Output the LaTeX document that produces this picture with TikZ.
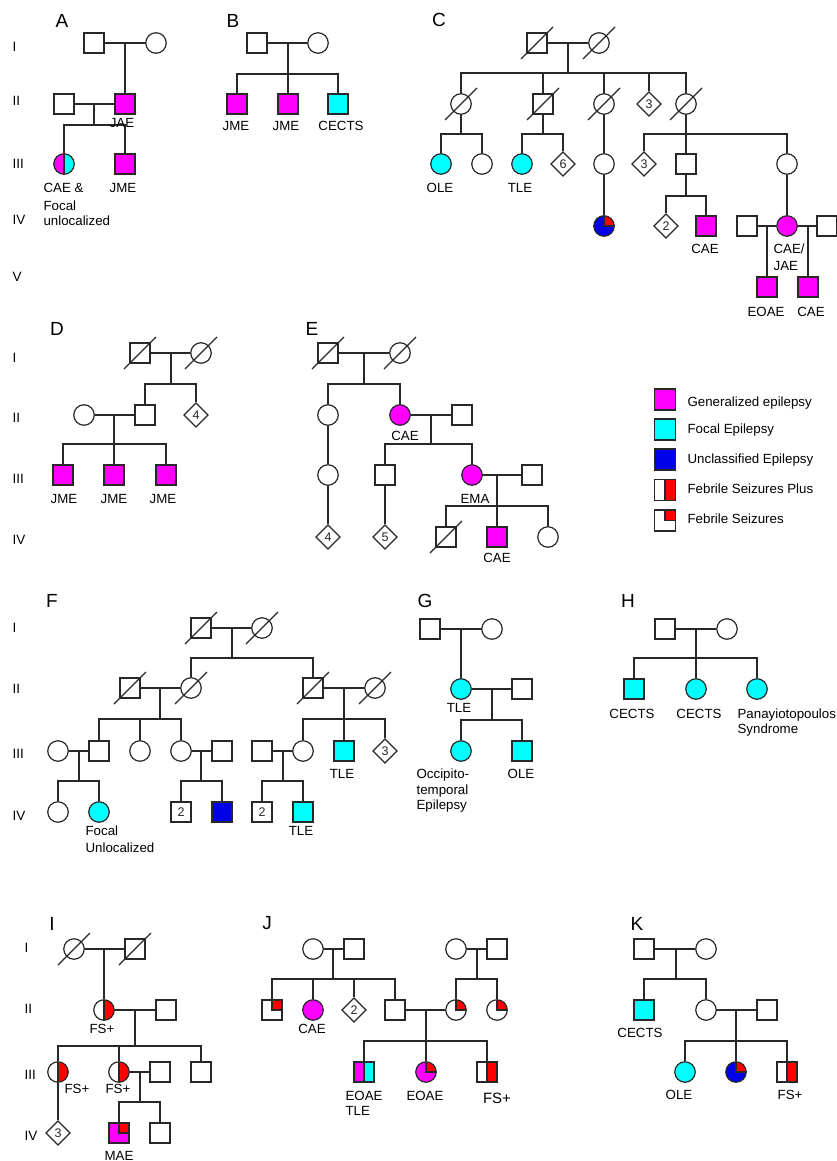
\documentclass[tikz,border=0pt]{standalone}
\usepackage{fontspec}
\setmainfont{Liberation Sans}
\usetikzlibrary{shapes.geometric}
\definecolor{gen}{RGB}{255,0,255}
\definecolor{foc}{RGB}{0,255,255}
\definecolor{unc}{RGB}{0,0,235}
\definecolor{fsred}{RGB}{255,0,0}
\definecolor{ink}{RGB}{40,40,40}
\tikzset{
 pedsym/.style={draw=ink, line width=1.2pt, inner sep=0pt, fill=white, text=ink, font=\fontsize{12.5}{13}\selectfont},
 sq/.style={pedsym, rectangle, minimum size=20pt},
 ci/.style={pedsym, circle, minimum size=20.5pt},
 di/.style={pedsym, diamond, minimum size=24.5pt},
 gen/.style={fill=gen},
 foc/.style={fill=foc},
 unc/.style={fill=unc},
 fsplus/.style={path picture={\fill[fsred] (path picture bounding box.north) rectangle (path picture bounding box.south east);
   \draw[ink,line width=1.2pt] (path picture bounding box.north) -- (path picture bounding box.south);}},
 fsq/.style={path picture={\fill[fsred] (path picture bounding box.center) rectangle (path picture bounding box.north east);
   \draw[ink,line width=1.2pt] (path picture bounding box.east) -- (path picture bounding box.center) -- (path picture bounding box.north);}},
 split/.style={fill=gen, path picture={\fill[foc] (path picture bounding box.north) rectangle (path picture bounding box.south east);
   \draw[ink,line width=1.2pt] (path picture bounding box.north) -- (path picture bounding box.south);}},
 lab/.style={inner sep=0pt, anchor=base, text=black, font=\fontsize{13.3}{15}\selectfont},
 labl/.style={lab, anchor=base west},
 biglab/.style={lab, font=\fontsize{15}{17}\selectfont},
 plet/.style={inner sep=0pt, anchor=base, text=black, font=\fontsize{19}{22}\selectfont},
 glab/.style={inner sep=0pt, anchor=base west, text=black, font=\fontsize{13.5}{15}\selectfont},
}
\newcommand\dead[1]{\draw[ink,line width=1.2pt] ([shift={(-16,16)}]#1.center) -- ([shift={(16,-16)}]#1.center);}
\begin{document}
\begin{tikzpicture}[x=1pt,y=-1pt,color=ink,line width=1.2pt]
\fill[white] (0,0) rectangle (837,1161);
\useasboundingbox (0,0) rectangle (837,1161);

% generation labels
\node[glab] (g1) at (12,52) {I};
\node[glab] (g2) at (12,106) {II};
\node[glab] (g3) at (12,168) {III};
\node[glab] (g4) at (12,224) {IV};
\node[glab] (g5) at (12,281) {V};
\node[glab] (gd1) at (12,362) {I};
\node[glab] (gd2) at (12,422) {II};
\node[glab] (gd3) at (12,483) {III};
\node[glab] (gd4) at (12,544) {IV};
\node[glab] (gf1) at (12,632) {I};
\node[glab] (gf2) at (12,693) {II};
\node[glab] (gf3) at (12,758) {III};
\node[glab] (gf4) at (12,820) {IV};
\node[glab] (gi1) at (24,952) {I};
\node[glab] (gi2) at (24,1013) {II};
\node[glab] (gi3) at (24,1079) {III};
\node[glab] (gi4) at (24,1140) {IV};

% panel letters
\node[plet] (pA) at (62,28) {A};
\node[plet] (pB) at (233,28) {B};
\node[plet] (pC) at (439,27) {C};
\node[plet] (pD) at (57,335) {D};
\node[plet] (pE) at (312,335) {E};
\node[plet] (pF) at (52,607) {F};
\node[plet] (pG) at (425,607) {G};
\node[plet] (pH) at (628,607) {H};
\node[plet] (pI) at (52,930) {I};
\node[plet] (pJ) at (267,929) {J};
\node[plet] (pK) at (637,930) {K};

% ---------- A ----------
\node[sq] (A1) at (94,43) {};
\node[ci] (A2) at (156,43) {};
\node[sq,gen] (A3) at (125,104) {};
\node[sq] (A4) at (64,104) {};
\node[ci,split] (A5) at (64,164) {};
\node[sq,gen] (A6) at (125,164) {};
\coordinate (Am1) at (125,43);
\coordinate (Am2) at (94,104);
\coordinate (As2) at (94,125);
\draw (A1) -- (A2);
\draw (Am1) -- (A3);
\draw (A4) -- (A3);
\draw (Am2) -- (As2);
\draw (A5) |- (As2) -| (A6);
\node[lab] (lA3) at (122,128) {JAE};
\node[labl] (lA5a) at (43,193) {CAE \&};
\node[labl] (lA5b) at (43,210) {Focal};
\node[labl] (lA5c) at (43,225) {unlocalized};
\node[lab] (lA6) at (123,193) {JME};

% ---------- B ----------
\node[sq] (B1) at (257,43) {};
\node[ci] (B2) at (318,43) {};
\coordinate (Bm) at (288,43);
\coordinate (Bs) at (288,74);
\node[sq,gen] (B3) at (237,104) {};
\node[sq,gen] (B4) at (288,104) {};
\node[sq,foc] (B5) at (338,104) {};
\draw (B1) -- (B2);
\draw (Bm) -- (B4);
\draw (B3) |- (Bs) -| (B5);
\node[lab] (lB3) at (236,131) {JME};
\node[lab] (lB4) at (286,131) {JME};
\node[lab] (lB5) at (341,131) {CECTS};

% ---------- C ----------
\node[sq] (C1) at (537,43) {};
\node[ci] (C2) at (599,43) {};
\coordinate (Cm1) at (568,43);
\coordinate (Cs1) at (568,73);
\node[ci] (C3) at (461,104) {};
\node[sq] (C4) at (543,104) {};
\node[ci] (C5) at (604,104) {};
\node[di] (C6) at (649,104) {3};
\node[ci] (C7) at (686,104) {};
\draw (C1) -- (C2);
\draw (Cm1) -- (Cs1);
\draw (C3) |- (Cs1) -| (C7);
\draw (C4) -- (C4 |- Cs1);
\draw (C5) -- (C5 |- Cs1);
\draw (C6) -- (C6 |- Cs1);
\node[ci,foc] (C8) at (441,164) {};
\node[ci] (C9) at (482,164) {};
\node[ci,foc] (C10) at (522,164) {};
\node[di] (C11) at (563,164) {6};
\node[ci] (C12) at (604,164) {};
\node[di] (C14) at (644,164) {3};
\node[sq] (C15) at (686,164) {};
\node[ci] (C16) at (787,164) {};
\coordinate (Cs3) at (461,134);
\coordinate (Cs4) at (543,134);
\coordinate (Cs7) at (686,134);
\draw (C3) -- (Cs3);
\draw (C8) |- (Cs3) -| (C9);
\draw (C4) -- (Cs4);
\draw (C10) |- (Cs4) -| (C11);
\draw (C5) -- (C12);
\draw (C7) -- (C15);
\draw (C14) |- (Cs7) -| (C16);
\node[ci,unc,fsq] (C13) at (604,226) {};
\node[di] (C17) at (666,226) {2};
\node[sq,gen] (C18) at (706,226) {};
\node[sq] (C20) at (747,226) {};
\node[ci,gen] (C19) at (787,226) {};
\node[sq] (C21) at (827,226) {};
\coordinate (Cs15) at (686,196);
\draw (C12) -- (C13);
\draw (C15) -- (Cs15);
\draw (C17) |- (Cs15) -| (C18);
\draw (C16) -- (C19);
\draw (C20) -- (C19);
\draw (C19) -- (C21);
\coordinate (Cm20) at (767,226);
\coordinate (Cm21) at (808,226);
\node[sq,gen] (C22) at (767,287) {};
\node[sq,gen] (C23) at (808,287) {};
\draw (Cm20) -- (C22);
\draw (Cm21) -- (C23);
\dead{C1}\dead{C2}\dead{C3}\dead{C4}\dead{C5}\dead{C7}
\node[lab] (lC8) at (440,193) {OLE};
\node[lab] (lC10) at (520,193) {TLE};
\node[lab] (lC18) at (705,253) {CAE};
\node[labl] (lC19a) at (773,253) {CAE/};
\node[labl] (lC19b) at (773,270) {JAE};
\node[lab] (lC22) at (766,316) {EOAE};
\node[lab] (lC23) at (811,316) {CAE};

% ---------- D ----------
\node[sq] (D1) at (140,353) {};
\node[ci] (D2) at (201,353) {};
\coordinate (Dm1) at (171,353);
\coordinate (Ds1) at (171,384);
\node[ci] (D5) at (84,415) {};
\node[sq] (D3) at (145,415) {};
\node[di] (D4) at (196,415) {4};
\draw (D1) -- (D2);
\draw (Dm1) -- (Ds1);
\draw (D3) |- (Ds1) -| (D4);
\draw (D5) -- (D3);
\coordinate (Dm5) at (114,415);
\coordinate (Ds5) at (114,444);
\node[sq,gen] (D6) at (63,475) {};
\node[sq,gen] (D7) at (114,475) {};
\node[sq,gen] (D8) at (166,475) {};
\draw (Dm5) -- (D7);
\draw (D6) |- (Ds5) -| (D8);
\dead{D1}\dead{D2}
\node[lab] (lD6) at (64,503) {JME};
\node[lab] (lD7) at (114,503) {JME};
\node[lab] (lD8) at (163,503) {JME};

% ---------- E ----------
\node[sq] (E1) at (328,353) {};
\node[ci] (E2) at (400,353) {};
\coordinate (Em1) at (364,353);
\coordinate (Es1) at (364,384);
\node[ci] (E3) at (328,415) {};
\node[ci,gen] (E4) at (400,415) {};
\node[sq] (E5) at (462,415) {};
\draw (E1) -- (E2);
\draw (Em1) -- (Es1);
\draw (E3) |- (Es1) -| (E4);
\draw (E4) -- (E5);
\coordinate (Em4) at (431,415);
\coordinate (Es4) at (431,444);
\node[ci] (E6) at (328,475) {};
\node[sq] (E7) at (385,475) {};
\node[ci,gen] (E8) at (472,475) {};
\node[sq] (E9) at (532,475) {};
\draw (Em4) -- (Es4);
\draw (E7) |- (Es4) -| (E8);
\draw (E3) -- (E6);
\draw (E8) -- (E9);
\coordinate (Em8) at (497,475);
\coordinate (Es8) at (497,506);
\node[di] (E10) at (328,537) {4};
\node[di] (E11) at (385,537) {5};
\node[sq] (E12) at (446,537) {};
\node[sq,gen] (E13) at (497,537) {};
\node[ci] (E14) at (548,537) {};
\draw (E6) -- (E10);
\draw (E7) -- (E11);
\draw (Em8) -- (E13);
\draw (E12) |- (Es8) -| (E14);
\dead{E1}\dead{E2}\dead{E12}
\node[lab] (lE4) at (405,440) {CAE};
\node[lab] (lE8) at (475,503) {EMA};
\node[lab] (lE13) at (497,562) {CAE};

% ---------- legend ----------
\node[sq,gen,minimum size=21pt] (L1) at (665,399.5) {};
\node[sq,foc,minimum size=21pt] (L2) at (665,429.5) {};
\node[sq,unc,minimum size=21pt] (L3) at (665,459.5) {};
\node[sq,fsplus,minimum size=21pt] (L4) at (665,490) {};
\node[sq,fsq,minimum size=21pt] (L5) at (665,520.5) {};
\node[labl] (lL1) at (687,406) {Generalized epilepsy};
\node[labl] (lL2) at (687,433.5) {Focal Epilepsy};
\node[labl] (lL3) at (687,463.5) {Unclassified Epilepsy};
\node[labl] (lL4) at (687,493.5) {Febrile Seizures Plus};
\node[labl] (lL5) at (687,523.5) {Febrile Seizures};

% ---------- F ----------
\node[sq] (F1) at (201,628) {};
\node[ci] (F2) at (262,628) {};
\coordinate (Fm1) at (232,628);
\coordinate (Fs1) at (232,658);
\node[sq] (F3) at (130,688) {};
\node[ci] (F4) at (191,688) {};
\node[sq] (F5) at (313,688) {};
\node[ci] (F6) at (375,688) {};
\draw (F1) -- (F2);
\draw (Fm1) -- (Fs1);
\draw (F4) |- (Fs1) -| (F5);
\draw (F3) -- (F4);
\draw (F5) -- (F6);
\coordinate (Fm3) at (160,688);
\coordinate (Fs3) at (160,719);
\coordinate (Fm5) at (344,688);
\coordinate (Fs5) at (344,719);
\node[ci] (F7) at (58,751) {};
\node[sq] (F8) at (99,751) {};
\node[ci] (F9) at (140,751) {};
\node[ci] (F10) at (181,751) {};
\node[sq] (F11) at (222,751) {};
\node[sq] (F12) at (262,751) {};
\node[ci] (F13) at (303,751) {};
\node[sq,foc] (F14) at (344,751) {};
\node[di] (F15) at (385,751) {3};
\draw (Fm3) -- (Fs3);
\draw (F8) |- (Fs3) -| (F10);
\draw (F9) -- (F9 |- Fs3);
\draw (Fm5) -- (F14);
\draw (F13) |- (Fs5) -| (F15);
\draw (F7) -- (F8);
\draw (F10) -- (F11);
\draw (F12) -- (F13);
\coordinate (Fm7) at (79,751);
\coordinate (Fs7) at (79,781);
\coordinate (Fm10) at (201,751);
\coordinate (Fs10) at (201,781);
\coordinate (Fm12) at (283,751);
\coordinate (Fs12) at (283,781);
\node[ci] (F16) at (58,812) {};
\node[ci,foc] (F17) at (99,812) {};
\node[sq] (F18) at (181,812) {2};
\node[sq,unc] (F19) at (222,812) {};
\node[sq] (F20) at (262,812) {2};
\node[sq,foc] (F21) at (303,812) {};
\draw (Fm7) -- (Fs7);
\draw (F16) |- (Fs7) -| (F17);
\draw (Fm10) -- (Fs10);
\draw (F18) |- (Fs10) -| (F19);
\draw (Fm12) -- (Fs12);
\draw (F20) |- (Fs12) -| (F21);
\dead{F1}\dead{F2}\dead{F3}\dead{F4}\dead{F5}\dead{F6}
\node[lab] (lF14) at (342,778) {TLE};
\node[labl] (lF17a) at (85,835) {Focal};
\node[labl] (lF17b) at (85,852) {Unlocalized};
\node[lab] (lF21) at (301,835) {TLE};

% ---------- G ----------
\node[sq] (G1) at (430,629) {};
\node[ci] (G2) at (492,629) {};
\coordinate (Gm1) at (461,629);
\node[ci,foc] (G3) at (461,689) {};
\node[sq] (G4) at (522,689) {};
\draw (G1) -- (G2);
\draw (Gm1) -- (G3);
\draw (G3) -- (G4);
\coordinate (Gm3) at (492,689);
\coordinate (Gs3) at (492,720);
\node[ci,foc] (G5) at (461,751) {};
\node[sq,foc] (G6) at (522,751) {};
\draw (Gm3) -- (Gs3);
\draw (G5) |- (Gs3) -| (G6);
\node[lab] (lG3) at (459,712) {TLE};
\node[labl] (lG5a) at (416,778) {Occipito-};
\node[labl] (lG5b) at (416,794) {temporal};
\node[labl] (lG5c) at (416,809) {Epilepsy};
\node[lab] (lG6) at (521,778) {OLE};

% ---------- H ----------
\node[sq] (H1) at (665,629) {};
\node[ci] (H2) at (727,629) {};
\coordinate (Hm) at (696,629);
\coordinate (Hs) at (696,658);
\node[sq,foc] (H3) at (634,689) {};
\node[ci,foc] (H4) at (696,689) {};
\node[ci,foc] (H5) at (757,689) {};
\draw (H1) -- (H2);
\draw (Hm) -- (H4);
\draw (H3) |- (Hs) -| (H5);
\node[lab] (lH3) at (632,718) {CECTS};
\node[lab] (lH4) at (699,718) {CECTS};
\node[labl] (lH5a) at (737,718) {Panayiotopoulos};
\node[labl] (lH5b) at (737,733) {Syndrome};

% ---------- I ----------
\node[ci] (I1) at (74,949) {};
\node[sq] (I2) at (135,949) {};
\coordinate (Im1) at (104,949);
\node[ci,fsplus] (I3) at (104,1010) {};
\node[sq] (I4) at (166,1010) {};
\draw (I1) -- (I2);
\draw (Im1) -- (I3);
\draw (I3) -- (I4);
\coordinate (Im3) at (135,1010);
\coordinate (Is3) at (135,1046);
\node[ci,fsplus] (I5) at (58,1072) {};
\node[ci,fsplus] (I6) at (119,1072) {};
\node[sq] (I7) at (160,1072) {};
\node[sq] (I8) at (201,1072) {};
\draw (Im3) -- (Is3);
\draw (I5) |- (Is3) -| (I8);
\draw (I6) -- (I6 |- Is3);
\draw (I6) -- (I7);
\coordinate (Im6) at (140,1072);
\coordinate (Is6) at (140,1102);
\node[di] (I9) at (58,1133) {3};
\node[sq,gen,fsq] (I10) at (119,1133) {};
\node[sq] (I11) at (160,1133) {};
\draw (I5) -- (I9);
\draw (Im6) -- (Is6);
\draw (I10) |- (Is6) -| (I11);
\dead{I1}\dead{I2}
\node[lab] (lI3) at (102,1033) {FS+};
\node[lab] (lI5) at (77,1093) {FS+};
\node[lab] (lI6) at (118,1093) {FS+};
\node[lab] (lI10) at (119,1160) {MAE};

% ---------- J ----------
\node[ci] (J1) at (313,949) {};
\node[sq] (J2) at (354,949) {};
\coordinate (Jm1) at (333,949);
\coordinate (Js1) at (333,979);
\node[sq,fsq] (J3) at (272,1010) {};
\node[ci,gen] (J4) at (313,1010) {};
\node[di] (J5) at (354,1010) {2};
\node[sq] (J6) at (395,1010) {};
\draw (J1) -- (J2);
\draw (Jm1) -- (Js1);
\draw (J3) |- (Js1) -| (J6);
\draw (J4) -- (J4 |- Js1);
\draw (J5) -- (J5 |- Js1);
\node[ci] (J7) at (456,949) {};
\node[sq] (J8) at (497,949) {};
\coordinate (Jm7) at (477,949);
\coordinate (Js7) at (477,979);
\node[ci,fsq] (J9) at (456,1010) {};
\node[ci,fsq] (J10) at (497,1010) {};
\draw (J7) -- (J8);
\draw (Jm7) -- (Js7);
\draw (J9) |- (Js7) -| (J10);
\draw (J6) -- (J9);
\coordinate (Jm6) at (426,1010);
\coordinate (Js6) at (426,1041);
\node[sq,split] (J11) at (364,1072) {};
\node[ci,gen,fsq] (J12) at (426,1072) {};
\node[sq,fsplus] (J13) at (487,1072) {};
\draw (Jm6) -- (J12);
\draw (J11) |- (Js6) -| (J13);
\node[lab] (lJ4) at (312,1033) {CAE};
\node[labl] (lJ11a) at (345,1100) {EOAE};
\node[labl] (lJ11b) at (345,1115) {TLE};
\node[lab] (lJ12) at (425,1100) {EOAE};
\node[biglab] (lJ13) at (497,1103) {FS+};

% ---------- K ----------
\node[sq] (K1) at (644,949) {};
\node[ci] (K2) at (706,949) {};
\coordinate (Km1) at (676,949);
\coordinate (Ks1) at (676,979);
\node[sq,foc] (K3) at (644,1010) {};
\node[ci] (K4) at (706,1010) {};
\node[sq] (K5) at (767,1010) {};
\draw (K1) -- (K2);
\draw (Km1) -- (Ks1);
\draw (K3) |- (Ks1) -| (K4);
\draw (K4) -- (K5);
\coordinate (Km4) at (736,1010);
\coordinate (Ks4) at (736,1041);
\node[ci,foc] (K6) at (685,1072) {};
\node[ci,unc,fsq] (K7) at (736,1072) {};
\node[sq,fsplus] (K8) at (787,1072) {};
\draw (Km4) -- (K7);
\draw (K6) |- (Ks4) -| (K8);
\node[lab] (lK3) at (640,1037) {CECTS};
\node[lab] (lK6) at (679,1099) {OLE};
\node[lab] (lK8) at (790,1099) {FS+};
\end{tikzpicture}
\end{document}
